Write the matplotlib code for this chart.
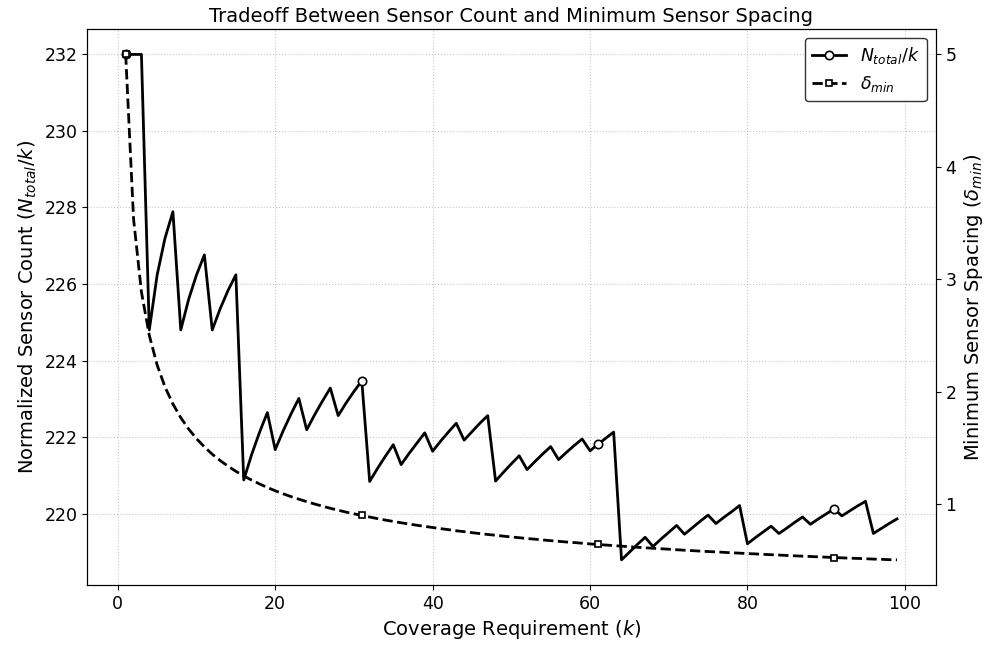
import matplotlib
matplotlib.use("Agg")
import matplotlib.pyplot as plt

k_values = list(range(1, 100))

n_per_k = [
    232.00, 232.00, 232.00,
    224.80, 226.24, 227.20, 227.89,
    224.80, 225.60, 226.24, 226.76,
    224.80, 225.35, 225.83, 226.24,
    220.88, 221.54, 222.12, 222.64,
    221.67, 222.16, 222.60, 223.01,
    222.19, 222.58, 222.94, 223.28,
    222.56, 222.89, 223.19, 223.47,
    220.84, 221.18, 221.50, 221.80,
    221.28, 221.57, 221.84, 222.11,
    221.63, 221.89, 222.13, 222.36,
    221.92, 222.14, 222.36, 222.56,
    220.85, 221.08, 221.30, 221.51,
    221.15, 221.36, 221.56, 221.75,
    221.41, 221.60, 221.78, 221.95,
    221.64, 221.81, 221.97, 222.13,
    218.79, 218.99, 219.19, 219.38,
    219.14, 219.33, 219.51, 219.69,
    219.46, 219.63, 219.80, 219.96,
    219.74, 219.90, 220.05, 220.21,
    219.21, 219.37, 219.52, 219.67,
    219.48, 219.62, 219.77, 219.91,
    219.72, 219.86, 219.99, 220.12,
    219.94, 220.07, 220.20, 220.32,
    219.48, 219.61, 219.74, 219.86,
]

delta_min = [
    5.000, 3.536, 2.887, 2.500, 2.236, 2.041, 1.890, 1.768, 1.667, 1.581,
    1.508, 1.443, 1.387, 1.336, 1.291, 1.250, 1.213, 1.179, 1.147, 1.118,
    1.091, 1.066, 1.043, 1.021, 1.000, 0.981, 0.962, 0.945, 0.928, 0.913,
    0.898, 0.884, 0.870, 0.857, 0.845, 0.833, 0.822, 0.811, 0.801, 0.791,
    0.781, 0.772, 0.762, 0.754, 0.745, 0.737, 0.729, 0.722, 0.714, 0.707,
    0.700, 0.693, 0.687, 0.680, 0.674, 0.668, 0.662, 0.657, 0.651, 0.645,
    0.640, 0.635, 0.630, 0.625, 0.620, 0.615, 0.611, 0.606, 0.602, 0.598,
    0.593, 0.589, 0.585, 0.581, 0.577, 0.574, 0.570, 0.566, 0.563, 0.559,
    0.556, 0.552, 0.549, 0.546, 0.542, 0.539, 0.536, 0.533, 0.530, 0.527,
    0.524, 0.521, 0.518, 0.516, 0.513, 0.510, 0.508, 0.505, 0.503,
]

title = "Tradeoff Between Sensor Count and Minimum Sensor Spacing"
xlabel = "Coverage Requirement ($k$)"
ylabel_left = "Normalized Sensor Count ($N_{total}/k$)"
ylabel_right = "Minimum Sensor Spacing ($\\delta_{min}$)"
label_n = "$N_{total}/k$"
label_d = "$\\delta_{min}$"

fig = plt.figure(figsize=(9.9, 6.48), dpi=100)
ax1 = fig.add_axes([0.088, 0.097, 0.857, 0.858])
ax2 = ax1.twinx()

l1, = ax1.plot(k_values, n_per_k, color="black", lw=2, marker="o",
               markevery=30, markersize=6, markerfacecolor="white",
               markeredgecolor="black", markeredgewidth=1.2, label=label_n)
l2, = ax2.plot(k_values, delta_min, color="black", lw=2, ls="--",
               marker="s", markevery=30, markersize=5,
               markerfacecolor="white", markeredgecolor="black",
               markeredgewidth=1.2, label=label_d)

ax1.set_xlabel(xlabel, fontsize=14)
ax1.set_ylabel(ylabel_left, fontsize=14)
ax2.set_ylabel(ylabel_right, fontsize=14)
ax1.set_title(title, fontsize=14, pad=5)
ax1.tick_params(labelsize=12.5)
ax2.tick_params(labelsize=12.5)
ax1.set_xticks([0, 20, 40, 60, 80, 100])
ax1.set_yticks([220, 222, 224, 226, 228, 230, 232])
ax2.set_yticks([1, 2, 3, 4, 5])
ax1.grid(True, ls=":", color="#bbbbbb", lw=0.8, alpha=0.8)

ax2.legend([l1, l2], [label_n, label_d], loc="upper right", fontsize=12.5,
           frameon=True, edgecolor="#333333", fancybox=True, framealpha=1)

fig.savefig("out.png", dpi=100)
